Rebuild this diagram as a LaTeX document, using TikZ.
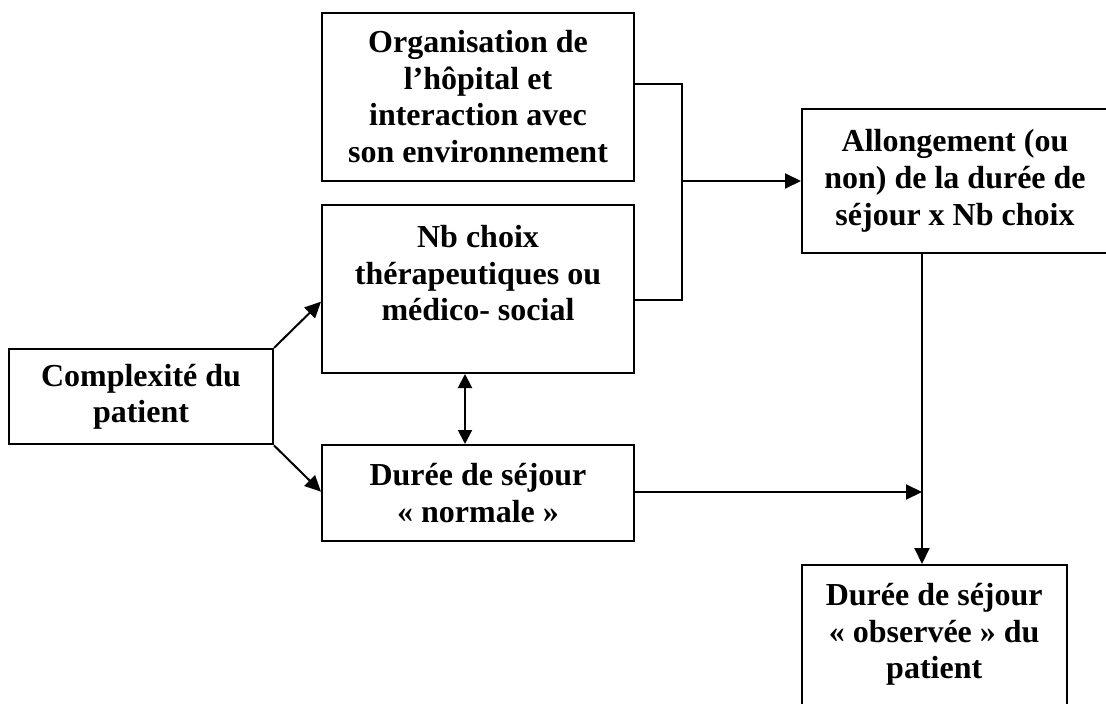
\documentclass[tikz,border=0pt]{standalone}
\usepackage{fontspec}
\setmainfont{Liberation Serif}
\usetikzlibrary{arrows.meta}
\tikzset{
  box/.style={draw=black, line width=2pt, fill=white, inner sep=0pt},
  txt/.style={font=\fontsize{32}{36.7}\selectfont\bfseries, align=center, inner sep=0pt},
  conn/.style={draw=black, line width=2pt},
  arr/.style={conn, -{Triangle[length=16pt,width=15pt]}},
  darr/.style={conn, {Triangle[length=14pt,width=14pt]}-{Triangle[length=14pt,width=14pt]}}
}
\begin{document}
\begin{tikzpicture}[x=1pt, y=-1pt]
\useasboundingbox (0,0) rectangle (1106,704);
\clip (0,0) rectangle (1106,704);
\fill[white] (0,0) rectangle (1106,704);

% boxes
\node[box, txt, minimum width=312pt, minimum height=168pt] (org) at (478,96.7)
  {Organisation de\\l’hôpital et\\interaction avec\\son environnement};
\node[box, minimum width=312pt, minimum height=168pt] (nb) at (478,289) {};
\node[txt, anchor=north] (nbt) at (478,225)
  {Nb choix\\thérapeutiques ou\\médico- social};
\node[box, txt, minimum width=264pt, minimum height=95.5pt] (comp) at (141,396.7)
  {Complexité du\\patient};
\node[box, txt, minimum width=312pt, minimum height=96pt] (dn) at (478,493)
  {Durée de séjour\\« normale »};
\node[box, txt, minimum width=320pt, minimum height=144pt] (allong) at (962,181) {};
\node[txt, anchor=center] (allt) at (955,181)
  {Allongement (ou\\non) de la durée de\\séjour x Nb choix};
\node[box, minimum width=265pt, minimum height=170pt] (obs) at (934.2,650) {};
\node[txt, anchor=north] (obst) at (934.2,583)
  {Durée de séjour\\« observée » du\\patient};

% junctions
\coordinate (j1) at (682,181);
\coordinate (j2) at (922,492);

% connectors
\draw[conn] ([yshift=12.4pt]org.east) -| (j1);
\draw[conn] ([yshift=-11pt]nb.east) -| (j1);
\draw[arr] (j1) -- (allong.west);
\draw[arr] (comp.north east) -- ([yshift=-12.7pt]nb.west);
\draw[arr] (comp.south east) -- ([yshift=1.3pt]dn.west);
\draw[darr] ([xshift=-13pt]nb.south) -- ([xshift=-13pt]dn.north);
\draw[arr] ([yshift=1pt]dn.east) -- (j2);
\draw[arr] (allong.south -| j2) -- (obs.north -| j2);
\end{tikzpicture}
\end{document}
